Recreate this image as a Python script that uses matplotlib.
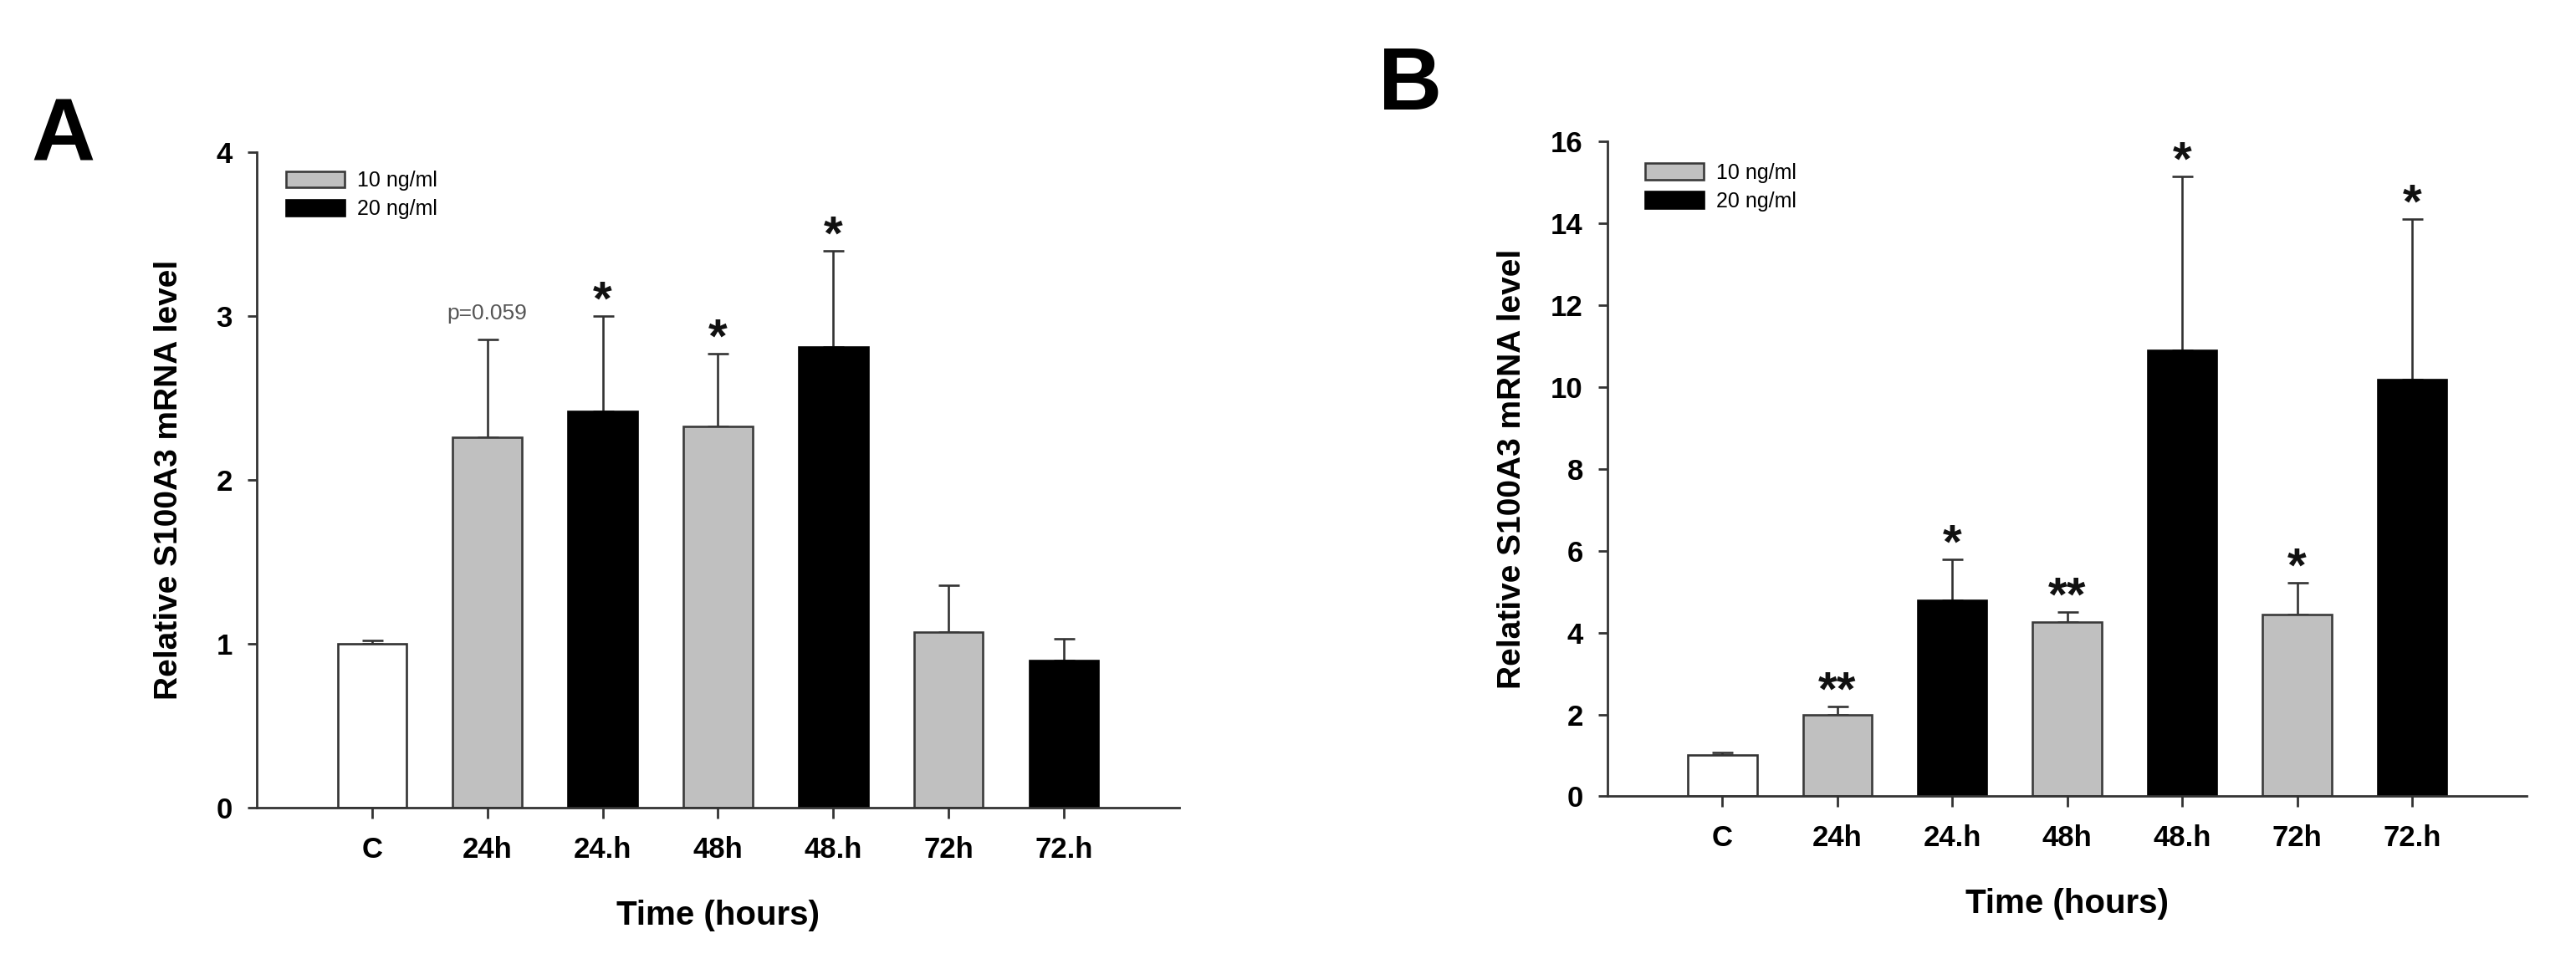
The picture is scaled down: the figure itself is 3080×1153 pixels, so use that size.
import matplotlib
matplotlib.use("Agg")
import matplotlib.pyplot as plt
from matplotlib.patches import Patch

plt.rcParams["font.family"] = ["Liberation Sans", "DejaVu Sans"]

# categories on the x axis
categories = ["C", "24h", "24.h", "48h", "48.h", "72h", "72.h"]
# 0 = control, 1 = 10 ng/ml, 2 = 20 ng/ml
groups = [0, 1, 2, 1, 2, 1, 2]

# panel A values (mean, upper error)
a_mean = [1.00, 2.26, 2.42, 2.33, 2.81, 1.07, 0.90]
a_err = [0.02, 0.60, 0.58, 0.44, 0.59, 0.29, 0.13]
a_marks = ["", "p=0.059", "*", "*", "*", "", ""]

# panel B values (mean, upper error)
b_mean = [1.00, 1.98, 4.79, 4.26, 10.90, 4.44, 10.19]
b_err = [0.08, 0.22, 1.01, 0.24, 4.26, 0.77, 3.92]
b_marks = ["", "**", "*", "**", "*", "*", "*"]

legend_labels = ["10 ng/ml", "20 ng/ml"]
face_colors = ["white", "#c0c0c0", "black"]
edge_colors = ["#333333", "#3a3a3a", "black"]
line_col = "#333333"


def draw_panel(ax, means, errs, marks, ymax, ystep, lab_x, leg_x, leg_y):
    x = list(range(len(categories)))
    fc = [face_colors[g] for g in groups]
    ec = [edge_colors[g] for g in groups]
    ax.bar(x, means, width=0.6, color=fc, edgecolor=ec, linewidth=1.9, zorder=2)
    ax.errorbar(x, means, yerr=[[0] * len(errs), errs], fmt="none",
                ecolor=line_col, elinewidth=1.9, capsize=9, capthick=1.9, zorder=1)

    for xi, m, e, t in zip(x, means, errs, marks):
        if not t:
            continue
        if t.startswith("p"):
            ax.annotate(t, (xi, m + e), xytext=(0, 17), textcoords="offset points",
                        ha="center", va="baseline", fontsize=19, color="#555555")
        else:
            ax.annotate(t, (xi, m + e), xytext=(0, 1), textcoords="offset points",
                        ha="center", va="baseline", fontsize=42, fontweight="bold",
                        color="#111111")

    ax.set_xlim(-1.0, 7.0)
    ax.set_ylim(0, ymax)
    ax.set_yticks(range(0, ymax + 1, ystep))
    ax.set_xticks(x)
    ax.set_xticklabels(categories)
    for s in ["top", "right"]:
        ax.spines[s].set_visible(False)
    for s in ["left", "bottom"]:
        ax.spines[s].set_linewidth(2.0)
        ax.spines[s].set_color(line_col)
    ax.tick_params(axis="y", direction="out", length=8, width=2, color=line_col,
                   pad=13, labelsize=25)
    ax.tick_params(axis="x", direction="out", length=9, width=2, color=line_col,
                   pad=15, labelsize=25)
    for lbl in ax.get_xticklabels() + ax.get_yticklabels():
        lbl.set_fontweight("bold")

    ax.set_xlabel("Time (hours)", fontsize=29, fontweight="bold")
    ax.set_ylabel("Relative S100A3 mRNA level", fontsize=28, fontweight="bold")
    ax.xaxis.set_label_coords(0.5, -0.14)
    ax.yaxis.set_label_coords(lab_x, 0.5)

    handles = [Patch(facecolor=face_colors[i + 1], edgecolor=edge_colors[i + 1],
                     linewidth=1.9) for i in range(2)]
    ax.legend(handles, legend_labels, loc="upper left", bbox_to_anchor=(leg_x, leg_y),
              frameon=False, fontsize=18, handlelength=2.8, handleheight=0.85,
              handletextpad=0.6, labelspacing=0.4, borderpad=0, borderaxespad=0)


def main():
    fig = plt.figure(figsize=(30.8, 11.53), dpi=100)
    ax1 = fig.add_axes([0.0997, 0.162, 0.358, 0.680])
    ax2 = fig.add_axes([0.624, 0.174, 0.357, 0.679])

    draw_panel(ax1, a_mean, a_err, a_marks, 4, 1, -0.079, 0.032, 0.972)
    draw_panel(ax2, b_mean, b_err, b_marks, 16, 2, -0.087, 0.041, 0.968)

    fig.text(0.012, 0.833, "A", fontsize=76, fontweight="bold")
    fig.text(0.535, 0.886, "B", fontsize=76, fontweight="bold")

    fig.savefig("out.png", dpi=100)
    plt.close(fig)


if __name__ == "__main__":
    main()
